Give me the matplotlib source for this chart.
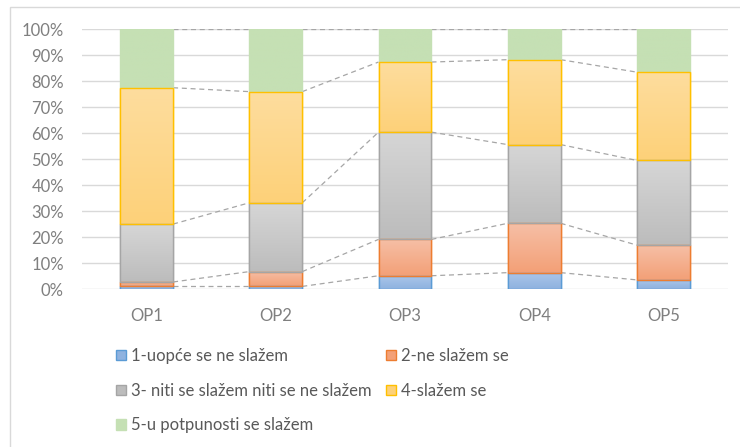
import numpy as np
import matplotlib.pyplot as plt
from matplotlib.patches import Rectangle
from matplotlib.ticker import PercentFormatter

plt.rcParams['font.family'] = ['Lato', 'DejaVu Sans']

categories = ['OP1', 'OP2', 'OP3', 'OP4', 'OP5']
labels = ['1-uopće se ne slažem', '2-ne slažem se',
          '3- niti se slažem niti se ne slažem', '4-slažem se',
          '5-u potpunosti se slažem']
# share of answers (%) per category
s1 = [1.0, 1.0, 5.1, 6.3, 3.5]
s2 = [1.7, 5.7, 14.0, 19.0, 13.4]
s3 = [22.3, 26.5, 41.3, 30.3, 32.6]
s4 = [52.5, 42.8, 27.0, 32.7, 34.0]
s5 = [22.5, 24.0, 12.6, 11.7, 16.5]
series = [s1, s2, s3, s4, s5]

# (top colour, bottom colour, edge colour)
colors = [('#abc6ea', '#8fb2df', '#5b9bd5'),
          ('#f6bfa6', '#f3a077', '#ed7d31'),
          ('#d6d6d6', '#bcbcbc', '#a5a5a5'),
          ('#fedd9e', '#fdd179', '#ffc000'),
          ('#c5e0b4', '#c5e0b4', '#c5e0b4')]

fig = plt.figure(figsize=(7.4, 4.47), dpi=100)
ax = fig.add_axes([82 / 740, 1 - 289 / 447, 646 / 740, 259.7 / 447])

x = np.arange(len(categories))
w = 0.41
bottom = np.zeros(len(categories))
tops = []
for vals, (c_top, c_bot, c_edge), lab in zip(series, colors, labels):
    vals = np.array(vals) / 100
    bars = ax.bar(x, vals, w, bottom=bottom, color=c_bot, edgecolor=c_edge,
                  linewidth=1.0, label=lab, zorder=3)
    for b in bars:
        x0, y0 = b.get_x(), b.get_y()
        grad = np.linspace(0, 1, 64).reshape(-1, 1)
        ct = np.array(plt.matplotlib.colors.to_rgb(c_top))
        cb = np.array(plt.matplotlib.colors.to_rgb(c_bot))
        img = cb + (ct - cb) * grad[..., None]
        ax.imshow(img, extent=(x0, x0 + w, y0, y0 + b.get_height()),
                  origin='lower', aspect='auto', zorder=3.5)
        ax.add_patch(Rectangle((x0, y0), w, b.get_height(), fill=False,
                               edgecolor=c_edge if c_edge != c_top else 'none',
                               linewidth=1.0, zorder=4))
    bottom = bottom + vals
    tops.append(bottom.copy())

# series lines between bars
for t in tops:
    for i in range(len(categories) - 1):
        ax.plot([x[i] + w / 2, x[i + 1] - w / 2], [t[i], t[i + 1]],
                color='#a6a6a6', linestyle=(0, (4, 3)), linewidth=0.9, zorder=2)

ax.set_xlim(-0.5, len(categories) - 0.5)
ax.set_ylim(0, 1)
ax.set_yticks(np.arange(0, 1.01, 0.1))
ax.yaxis.set_major_formatter(PercentFormatter(1.0, decimals=0))
ax.set_xticks(x)
ax.set_xticklabels(categories)
ax.grid(axis='y', color='#d9d9d9', linewidth=1.0, zorder=0)
ax.set_axisbelow(True)
for sp in ax.spines.values():
    sp.set_visible(False)
ax.tick_params(length=0, labelsize=12, colors='#7f7f7f')
ax.tick_params(axis='y', pad=13)
ax.tick_params(axis='x', pad=14)

# chart border
fig.add_artist(Rectangle((10 / 740, -0.1), 1.2, 1 - 7 / 447 + 0.1,
                         transform=fig.transFigure, fill=False,
                         edgecolor='#d9d9d9', linewidth=1.0))

h, l = ax.get_legend_handles_labels()
order = [0, 2, 4, 1, 3]
leg = fig.legend([h[i] for i in order], [l[i] for i in order], ncol=2,
                 loc='upper left', bbox_to_anchor=(116 / 740, 1 - 348 / 447),
                 frameon=False, fontsize=12, labelspacing=1.12,
                 handlelength=0.6, handleheight=0.6, handletextpad=0.3,
                 columnspacing=0.85, borderaxespad=0, borderpad=0)
for t in leg.get_texts():
    t.set_color('#595959')

fig.savefig('out.png', dpi=100)
